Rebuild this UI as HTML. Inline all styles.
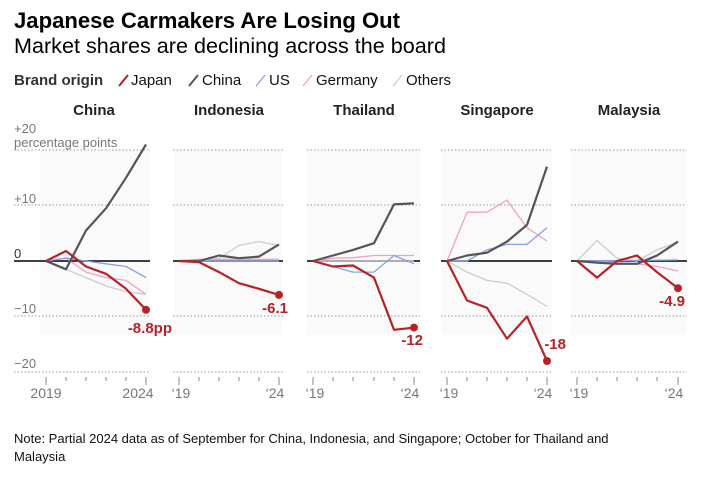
<!DOCTYPE html>
<html><head><meta charset="utf-8"><style>
body{margin:0;background:#fff;width:705px;height:476px;overflow:hidden;font-family:"Liberation Sans",Arial,sans-serif}
</style></head><body>
<svg width="705" height="476" xmlns="http://www.w3.org/2000/svg" font-family="Liberation Sans, Arial, sans-serif">
<text x="14" y="28" font-size="22" font-weight="bold" fill="#000" textLength="386" lengthAdjust="spacingAndGlyphs">Japanese Carmakers Are Losing Out</text>
<text x="14" y="53" font-size="21" fill="#000" textLength="432" lengthAdjust="spacingAndGlyphs">Market shares are declining across the board</text>
<text x="14" y="85" font-size="15" font-weight="bold" fill="#333">Brand origin</text>
<g font-size="15" fill="#111">
<line x1="119" y1="86" x2="128" y2="75" stroke="#b5232a" stroke-width="2"/><text x="131" y="85">Japan</text>
<line x1="189" y1="86" x2="198" y2="75" stroke="#555" stroke-width="2"/><text x="202" y="85">China</text>
<line x1="256" y1="86" x2="265" y2="75" stroke="#8a9ee8" stroke-width="1.3"/><text x="269" y="85">US</text>
<line x1="303" y1="86" x2="312" y2="75" stroke="#f0a0c8" stroke-width="1.3"/><text x="316" y="85">Germany</text>
<line x1="393" y1="86" x2="402" y2="75" stroke="#ccc" stroke-width="1.3"/><text x="406" y="85">Others</text>
</g>
<g font-size="15" font-weight="bold" fill="#222" text-anchor="middle">
<text x="94" y="115">China</text><text x="229" y="115">Indonesia</text><text x="364" y="115">Thailand</text><text x="497" y="115">Singapore</text><text x="629" y="115">Malaysia</text>
</g>
<g fill="#fafafa">
<rect x="40" y="150" width="110" height="185"/><rect x="173" y="150" width="110" height="185"/><rect x="307" y="150" width="113" height="185"/><rect x="441" y="150" width="111" height="185"/><rect x="571" y="150" width="116" height="185"/>
</g>
<g stroke="#999" stroke-width="1" stroke-dasharray="1.5 2">
<line x1="14" y1="150" x2="150" y2="150"/><line x1="14" y1="205" x2="150" y2="205"/><line x1="14" y1="316" x2="150" y2="316"/><line x1="14" y1="372" x2="150" y2="372"/>
<line x1="173" y1="150" x2="283" y2="150"/><line x1="173" y1="205" x2="283" y2="205"/><line x1="173" y1="316" x2="283" y2="316"/><line x1="173" y1="372" x2="283" y2="372"/>
<line x1="307" y1="150" x2="420" y2="150"/><line x1="307" y1="205" x2="420" y2="205"/><line x1="307" y1="316" x2="420" y2="316"/><line x1="307" y1="372" x2="420" y2="372"/>
<line x1="441" y1="150" x2="552" y2="150"/><line x1="441" y1="205" x2="552" y2="205"/><line x1="441" y1="316" x2="552" y2="316"/><line x1="441" y1="372" x2="552" y2="372"/>
<line x1="571" y1="150" x2="687" y2="150"/><line x1="571" y1="205" x2="687" y2="205"/><line x1="571" y1="316" x2="687" y2="316"/><line x1="571" y1="372" x2="687" y2="372"/>
</g>
<g stroke="#000" stroke-width="1.6">
<line x1="14" y1="261" x2="150" y2="261"/><line x1="173" y1="261" x2="283" y2="261"/><line x1="307" y1="261" x2="420" y2="261"/><line x1="441" y1="261" x2="552" y2="261"/><line x1="571" y1="261" x2="687" y2="261"/>
</g>
<g font-size="13" fill="#777">
<text x="14" y="133">+20</text><text x="14" y="147">percentage points</text>
<text x="14" y="203">+10</text><text x="14" y="258" fill="#333">0</text><text x="14" y="313">−10</text><text x="14" y="368">−20</text>
</g>
<g fill="none" stroke-linejoin="round">
<polyline stroke="#ccc" stroke-width="1.3" points="46,261 66,269.3 86,277.6 106,286 126,291.5 146,294.3"/>
<polyline stroke="#f0a0c8" stroke-width="1.3" points="46,261 66,258.2 86,272.1 106,277.6 126,280.4 146,294.3"/>
<polyline stroke="#8a9ee8" stroke-width="1.3" points="46,261 66,258.2 86,261 106,263.8 126,266.5 146,277.6"/>
<polyline stroke="#555" stroke-width="2.2" points="46,261 66,269.3 86,230.5 106,208.3 126,177.8 146,144.5"/>
<polyline stroke="#b5232a" stroke-width="2.2" points="46,261 66,251 86,266.5 106,273.8 126,288.8 146,309.8"/>
<polyline stroke="#ccc" stroke-width="1.3" points="179,261 199,261 219,258.2 239,245.5 259,241.6 279,245.5"/>
<polyline stroke="#f0a0c8" stroke-width="1.3" points="179,261 199,259.3 219,259.3 239,259.3 259,259.3 279,259.3"/>
<polyline stroke="#8a9ee8" stroke-width="1.3" points="179,261 279,261"/>
<polyline stroke="#555" stroke-width="2.2" points="179,261 199,261 219,255.5 239,258.2 259,256.6 279,244.4"/>
<polyline stroke="#b5232a" stroke-width="2.2" points="179,261 199,262.1 219,272.1 239,283.2 259,288.8 279,294.9"/>
<polyline stroke="#ccc" stroke-width="1.3" points="313,261 414,261"/>
<polyline stroke="#f0a0c8" stroke-width="1.3" points="313,261 333,258.2 353,257.7 374,255.5 394,255.5 414,255.5"/>
<polyline stroke="#8a9ee8" stroke-width="1.3" points="313,261 333,266.5 353,272.1 374,272.1 394,255.5 414,263.8"/>
<polyline stroke="#555" stroke-width="2.2" points="313,261 333,255.5 353,249.9 374,243.2 394,204.4 414,203.3"/>
<polyline stroke="#b5232a" stroke-width="2.2" points="313,261 333,266.5 353,265.5 374,277.6 394,329.8 414,327.6"/>
<polyline stroke="#ccc" stroke-width="1.3" points="447,261 467,272.1 487,280.4 507,283.2 527,294.3 547,306.5"/>
<polyline stroke="#f0a0c8" stroke-width="1.3" points="447,261 467,212.2 487,212.2 507,200 527,227.7 547,241"/>
<polyline stroke="#8a9ee8" stroke-width="1.3" points="447,261 467,261 487,249.9 507,244.4 527,244.4 547,227.7"/>
<polyline stroke="#555" stroke-width="2.2" points="447,261 467,255.5 487,252.7 507,241.6 527,224.9 547,166.6"/>
<polyline stroke="#b5232a" stroke-width="2.2" points="447,261 467,300.5 487,307.8 507,338.7 527,316.5 547,361"/>
<polyline stroke="#ccc" stroke-width="1.3" points="577,261 597,240.5 617,258.2 637,261 657,249.9 678,242"/>
<polyline stroke="#f0a0c8" stroke-width="1.3" points="577,261 597,261 617,262.7 637,263.8 657,266.5 678,271"/>
<polyline stroke="#8a9ee8" stroke-width="1.3" points="577,261 678,260"/>
<polyline stroke="#555" stroke-width="2.2" points="577,261 597,262.7 617,263.8 637,263.8 657,255.5 678,241.6"/>
<polyline stroke="#b5232a" stroke-width="2.2" points="577,261 597,277.6 617,261 637,255.5 657,272.1 678,288.2"/>
</g>
<g fill="#b5232a">
<circle cx="146" cy="309.8" r="4"/><circle cx="279" cy="294.9" r="4"/><circle cx="414" cy="327.6" r="4"/><circle cx="547" cy="361" r="4"/><circle cx="678" cy="288.2" r="4"/>
</g>
<g font-size="15" font-weight="bold" fill="#b5232a" text-anchor="end">
<text x="172" y="333">-8.8pp</text><text x="288" y="313">-6.1</text><text x="423" y="345">-12</text><text x="566" y="349">-18</text><text x="685" y="306">-4.9</text>
</g>
<g stroke="#888" stroke-width="1">
<path d="M46,377v8M66,377v4M86,377v4M106,377v4M126,377v4M146,377v8"/>
<path d="M179,377v8M199,377v4M219,377v4M239,377v4M259,377v4M279,377v8"/>
<path d="M313,377v8M333,377v4M353,377v4M374,377v4M394,377v4M414,377v8"/>
<path d="M447,377v8M467,377v4M487,377v4M507,377v4M527,377v4M547,377v8"/>
<path d="M577,377v8M597,377v4M617,377v4M637,377v4M657,377v4M678,377v8"/>
</g>
<g font-size="14" fill="#777" text-anchor="middle">
<text x="46" y="398">2019</text><text x="138" y="398">2024</text>
<text x="181" y="398">‘19</text><text x="275" y="398">‘24</text>
<text x="315" y="398">‘19</text><text x="410" y="398">‘24</text>
<text x="449" y="398">‘19</text><text x="543" y="398">‘24</text>
<text x="579" y="398">‘19</text><text x="674" y="398">‘24</text>
</g>
<g font-size="13" fill="#111">
<text x="14" y="443">Note: Partial 2024 data as of September for China, Indonesia, and Singapore; October for Thailand and</text>
<text x="14" y="461">Malaysia</text>
</g>
</svg>
</body></html>
